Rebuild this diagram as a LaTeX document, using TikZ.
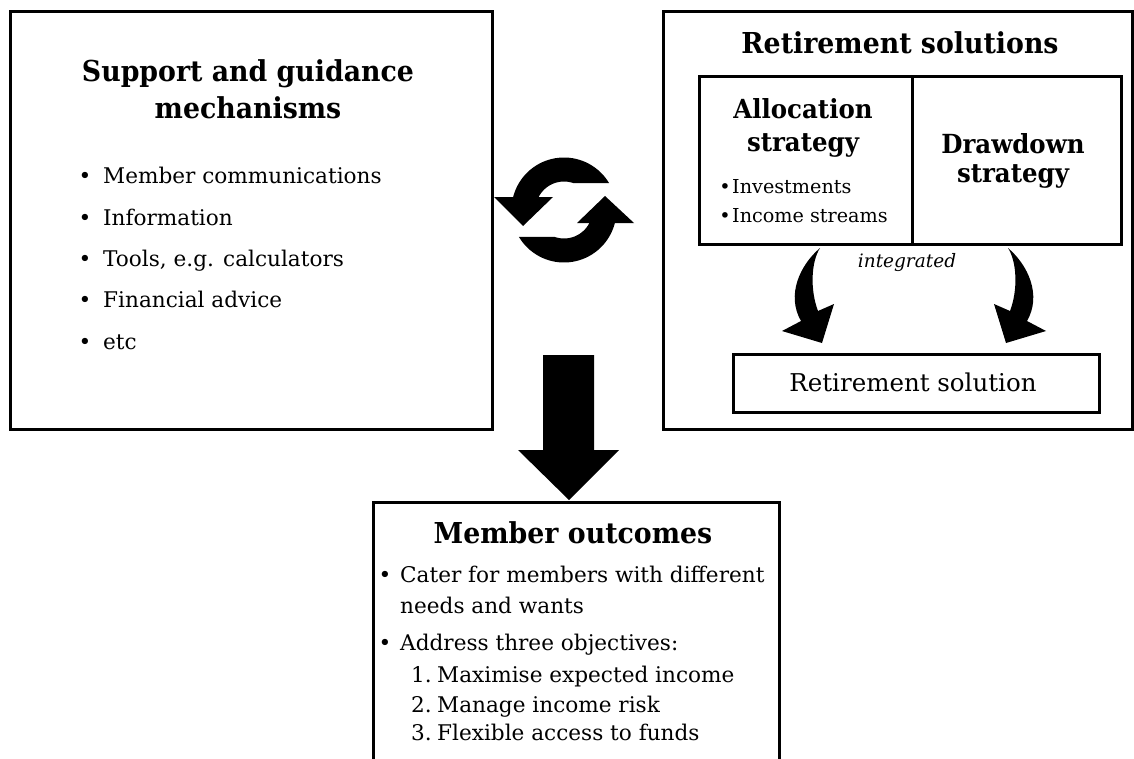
\documentclass[tikz,border=0pt]{standalone}
\usepackage{fontspec}
\setmainfont{DejaVu Serif}
\newfontfamily\headfont{DejaVu Serif}[FakeStretch=0.93]
% type sizes (1pt = 1 unit of the drawing)
\newcommand\szHead{\headfont\bfseries\fontsize{28.8pt}{34pt}\selectfont}
\newcommand\szSub{\headfont\bfseries\fontsize{26.3pt}{31pt}\selectfont}
\newcommand\szBody{\fontsize{21.6pt}{26pt}\selectfont}
\newcommand\szSmall{\fontsize{19.2pt}{23pt}\selectfont}
\newcommand\szNote{\itshape\fontsize{18.5pt}{22pt}\selectfont}
\newcommand\szBox{\fontsize{24.5pt}{29pt}\selectfont}
\begin{document}
\begin{tikzpicture}[x=1pt,y=-1pt,
  box/.style={draw, line width=3.4pt, inner sep=0pt, anchor=north west},
  txt/.style={inner sep=0pt, anchor=base},
  ltxt/.style={inner sep=0pt, anchor=base west},
  blk/.style={fill=black, draw=none}]
\useasboundingbox (0,0) rectangle (1134,758);

% ---------- left panel: support and guidance ----------
\node[box, minimum width=482pt, minimum height=418pt] (support) at (9,10) {};
\node[txt] (supT1) at (248,81) {\szHead Support and guidance};
\node[txt] (supT2) at (248,118) {\szHead mechanisms};
\foreach \i/\t/\y in {1/Member communications/183, 2/Information/225,
                      3/{Tools, e.g. calculators}/266, 4/Financial advice/307, 5/etc/349}{
  \node[txt] (supB\i) at (85,\y) {\szBody\textbullet};
  \node[ltxt] (supL\i) at (103,\y) {\szBody \t};
}

% ---------- right panel: retirement solutions ----------
\node[box, minimum width=469pt, minimum height=418pt] (retire) at (662,10) {};
\node[txt] (retT) at (900,53) {\szHead Retirement solutions};
\node[box, minimum width=213pt, minimum height=168pt] (alloc) at (698,75) {};
\node[box, minimum width=209pt, minimum height=168pt] (drawdown) at (911,75) {};
\node[txt] (allT1) at (803,118) {\szSub Allocation};
\node[txt] (allT2) at (803,151) {\szSub strategy};
\node[txt] (allB1) at (725,193) {\szSmall\textbullet};
\node[ltxt] (allL1) at (732,193) {\szSmall Investments};
\node[txt] (allB2) at (725,222) {\szSmall\textbullet};
\node[ltxt] (allL2) at (732,222) {\szSmall Income streams};
\node[txt] (drwT1) at (1013,153) {\szSub Drawdown};
\node[txt] (drwT2) at (1013,182) {\szSub strategy};
\node[txt] (integ) at (907,267) {\szNote integrated};
\node[box, minimum width=366pt, minimum height=58pt] (solution) at (732,353) {};
\node[txt] (solT) at (913,391) {\szBox Retirement solution};

% curved arrows into the retirement solution
\fill[blk] (820,248) .. controls (800,265) and (786,295) .. (801,321)
  -- (782,331) -- (822,343) -- (834,304) -- (818,311)
  .. controls (810,290) and (811,262) .. (820,248) -- cycle;
\fill[blk] (1008,248) .. controls (1028,265) and (1042,295) .. (1027,321)
  -- (1046,331) -- (1006,343) -- (994,304) -- (1010,311)
  .. controls (1018,290) and (1017,262) .. (1008,248) -- cycle;

% ---------- cycle symbol between the panels ----------
\fill[blk] plot[domain=329.1:180, samples=40] ({564+52.5*cos(\x)},{210+52.5*sin(\x)})
  -- plot[domain=180:290, samples=30] ({564+28.5*cos(\x)},{210+28.5*sin(\x)}) -- cycle;
\fill[blk] (494,197) -- (553,197) -- (523,226) -- cycle;
\fill[blk] plot[domain=149.1:0, samples=40] ({564+52.5*cos(\x)},{210+52.5*sin(\x)})
  -- plot[domain=0:110, samples=30] ({564+28.5*cos(\x)},{210+28.5*sin(\x)}) -- cycle;
\fill[blk] (577,223) -- (634,223) -- (605,196) -- cycle;

% ---------- bottom panel: member outcomes (runs off the lower edge) ----------
\begin{scope}
  \clip (0,0) rectangle (1134,758);
  \node[box, minimum width=406pt, minimum height=300pt] (outcome) at (372,501) {};
\end{scope}
\coordinate (arrowTop) at (568.5,355);
\fill[blk] ([xshift=-25.5pt]arrowTop) -- ([xshift=25.5pt]arrowTop)
  -- (594,450) -- (619,450) -- (569,500) -- (518,450) -- (543,450) -- cycle;

\node[txt] (outT) at (573,543) {\szHead Member outcomes};
\node[txt] (outB1) at (385,582) {\szBody\textbullet};
\node[ltxt] (outL1) at (400,582) {\szBody Cater for members with different};
\node[ltxt] (outL1b) at (400,613) {\szBody needs and wants};
\node[txt] (outB2) at (385,650) {\szBody\textbullet};
\node[ltxt] (outL2) at (400,650) {\szBody Address three objectives:};
\foreach \n/\t/\y in {1/Maximise expected income/682, 2/Manage income risk/712,
                      3/Flexible access to funds/740}{
  \node[ltxt] (num\n) at (411,\y) {\szBody \n.};
  \node[ltxt] (obj\n) at (437,\y) {\szBody \t};
}
\end{tikzpicture}
\end{document}
